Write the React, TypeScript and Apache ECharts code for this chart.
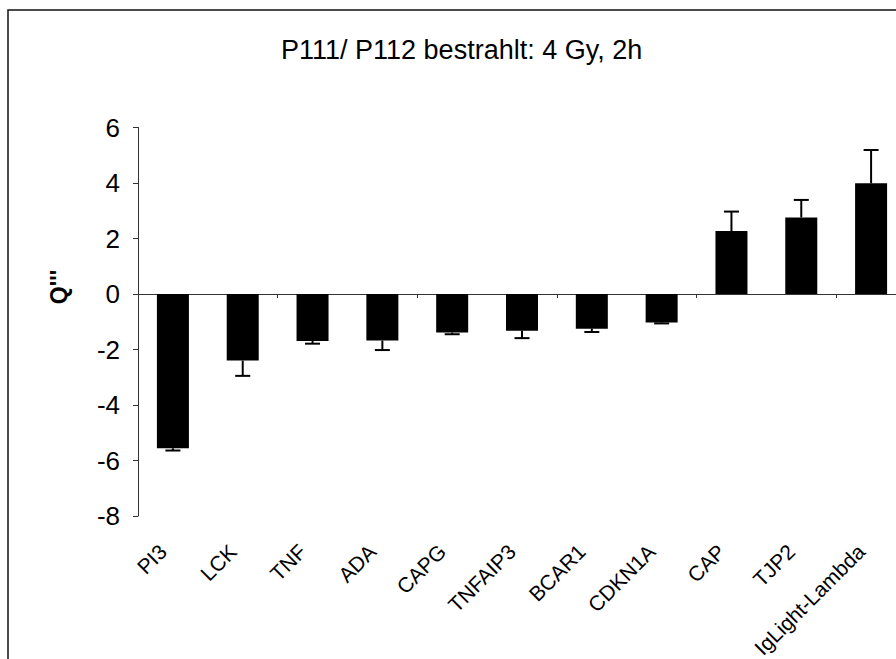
import React, { useEffect, useRef } from "react";
import * as echarts from "echarts";

const genes = [
  "PI3",
  "LCK",
  "TNF",
  "ADA",
  "CAPG",
  "TNFAIP3",
  "BCAR1",
  "CDKN1A",
  "CAP",
  "TJP2",
  "IgLight-Lambda",
];
const qValues = [-5.56, -2.4, -1.69, -1.68, -1.39, -1.32, -1.25, -1.03, 2.27, 2.76, 3.99];
const qErrors = [0.08, 0.55, 0.1, 0.34, 0.06, 0.27, 0.12, 0.03, 0.7, 0.63, 1.2];
const yTicks = { min: -8, max: 6, step: 2 };

const FONT = "'Liberation Sans', Arial, sans-serif";

export default function App() {
  const ref = useRef<HTMLDivElement>(null);

  useEffect(() => {
    if (!ref.current) return;
    const chart = echarts.init(ref.current, null, { renderer: "svg" });

    // one-sided error bars pointing away from zero
    const errData = qValues.map((v, i) => [i, v, qErrors[i]]);

    const plotBox = { top: 127.5, bottom: 143, width: 768, outerBoundsMode: "none", containLabel: false };

    chart.setOption({
      animation: false,
      backgroundColor: "#fff",
      textStyle: { fontFamily: FONT },
      title: {
        text: "P111/ P112 bestrahlt: 4 Gy, 2h",
        left: 276,
        top: 31,
        textStyle: { fontFamily: FONT, fontSize: 27, fontWeight: "normal", color: "#000" },
      },
      graphic: [
        {
          type: "rect",
          shape: { x: 8, y: 10, width: 920, height: 720 },
          style: { fill: "none", stroke: "#111", lineWidth: 1.5 },
          silent: true,
        },
        {
          type: "text",
          x: 59,
          y: 287,
          rotation: Math.PI / 2,
          style: {
            text: "Q'''",
            fontFamily: FONT,
            fontSize: 23,
            fontWeight: "bold",
            fill: "#000",
            align: "center",
            verticalAlign: "middle",
          },
        },
      ],
      grid: [
        { left: 138, ...plotBox },
        // label strip, nudged left so rotated names end just before each bar
        { left: 128, ...plotBox },
      ],
      xAxis: [
        {
          type: "category",
          gridIndex: 0,
          data: genes,
          position: "bottom",
          axisLine: { show: true, onZero: true, lineStyle: { color: "#333", width: 1 } },
          axisTick: { show: true, alignWithLabel: false, length: 4, lineStyle: { color: "#333" } },
          axisLabel: { show: false },
          splitLine: { show: false },
        },
        {
          type: "category",
          gridIndex: 1,
          data: genes,
          position: "bottom",
          axisLine: { show: false, onZero: false },
          axisTick: { show: false },
          axisLabel: {
            show: true,
            rotate: 45,
            margin: 32,
            interval: 0,
            fontFamily: FONT,
            fontSize: 21,
            color: "#000",
          },
          splitLine: { show: false },
        },
      ],
      yAxis: [
        {
          type: "value",
          gridIndex: 0,
          min: yTicks.min,
          max: yTicks.max,
          interval: yTicks.step,
          axisLine: { show: true, lineStyle: { color: "#333", width: 1 } },
          axisTick: { show: true, length: 5, lineStyle: { color: "#333" } },
          axisLabel: { margin: 18, fontFamily: FONT, fontSize: 26, color: "#000" },
          splitLine: { show: false },
        },
        {
          type: "value",
          gridIndex: 1,
          min: yTicks.min,
          max: yTicks.max,
          interval: yTicks.step,
          show: false,
        },
      ],
      series: [
        {
          type: "bar",
          data: qValues,
          barWidth: 32,
          xAxisIndex: 0,
          yAxisIndex: 0,
          itemStyle: { color: "#000" },
        },
        {
          type: "custom",
          xAxisIndex: 0,
          yAxisIndex: 0,
          data: errData,
          z: 3,
          renderItem: (params: any, api: any) => {
            const idx = api.value(0);
            const v = api.value(1);
            const e = api.value(2);
            const end = v >= 0 ? v + e : v - e;
            const p0 = api.coord([idx, v]);
            const p1 = api.coord([idx, end]);
            const half = 7.5;
            const style = { stroke: "#000", lineWidth: 2 };
            return {
              type: "group",
              children: [
                { type: "line", shape: { x1: p0[0], y1: p0[1], x2: p1[0], y2: p1[1] }, style },
                {
                  type: "line",
                  shape: { x1: p1[0] - half, y1: p1[1], x2: p1[0] + half, y2: p1[1] },
                  style,
                },
              ],
            };
          },
        },
      ],
    });

    return () => chart.dispose();
  }, []);

  return (
    <div
      ref={ref}
      style={{ position: "fixed", left: 0, top: 0, width: 896, height: 659, background: "#fff" }}
    />
  );
}
